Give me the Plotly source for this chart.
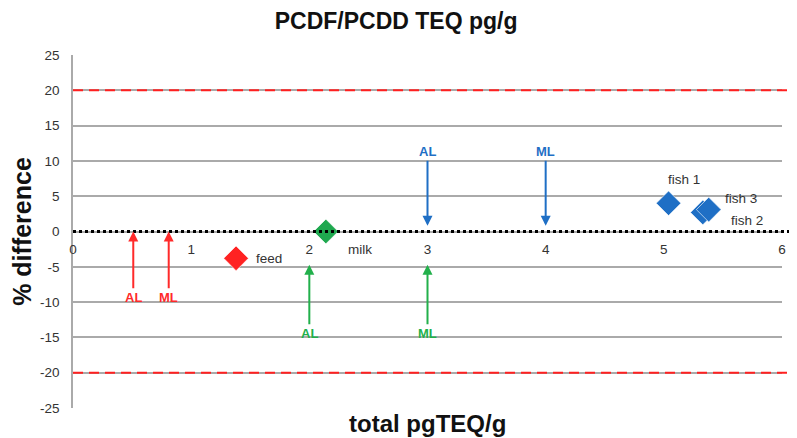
import plotly.graph_objects as go

# ---- data ----
sample_names = ["feed", "milk", "fish 1", "fish 2", "fish 3"]
sample_x = [1.38, 2.14, 5.04, 5.33, 5.38]
sample_y = [-3.8, 0.0, 4.0, 2.7, 3.1]
sample_colors = ["#ff2222", "#1fa84f", "#1f6fc5", "#1f6fc5", "#1f6fc5"]
label_x = [1.53, 2.31, 5.17, 5.55, 5.50]
label_y = [-3.8, -2.6, 7.3, 1.6, 4.7]
label_anchor = ["left", "left", "center", "left", "left"]

arrow_text = ["AL", "ML", "AL", "ML", "AL", "ML"]
arrow_x = [0.51, 0.81, 2.0, 3.0, 3.0, 4.0]
arrow_tail_y = [-9.3, -9.3, -14.4, -14.4, 11.3, 11.3]
arrow_head_y = [0.0, 0.0, -4.7, -4.7, 0.8, 0.8]
arrow_colors = ["#ff2a2a", "#ff2a2a", "#22b04b", "#22b04b", "#1f6fc5", "#1f6fc5"]

x_ticks = [0, 1, 2, 3, 4, 5, 6]
y_ticks = [-25, -20, -15, -10, -5, 0, 5, 10, 15, 20, 25]
y_tick_labels = ["-25", "-20", "-15", "-10", "-5", "0", "5", "10", "15", "20", "25"]
limit_lines = [20, -20]

fig = go.Figure()

fig.add_trace(go.Scatter(
    x=sample_x, y=sample_y, mode="markers",
    marker=dict(symbol="diamond", size=19, color=sample_colors,
                line=dict(color="rgba(255,255,255,0.6)", width=1)),
    showlegend=False, hoverinfo="skip", cliponaxis=False,
))

annotations = []
for t, x, y, a in zip(sample_names, label_x, label_y, label_anchor):
    annotations.append(dict(x=x, y=y, xref="x", yref="y", text=t, showarrow=False,
                            xanchor=a, yanchor="middle",
                            font=dict(family="Arial", size=13.5, color="#333333")))

for t, x, ty, hy, c in zip(arrow_text, arrow_x, arrow_tail_y, arrow_head_y, arrow_colors):
    annotations.append(dict(x=x, y=hy, ax=x, ay=ty, xref="x", yref="y", axref="x", ayref="y",
                            text="<b>%s</b>" % t, showarrow=True, arrowhead=2, arrowsize=1,
                            arrowwidth=2, arrowcolor=c, standoff=0, startstandoff=0,
                            font=dict(family="Arial", size=13, color=c)))

annotations.append(dict(x=0.5, y=-0.043, xref="paper", yref="paper", text="<b>total pgTEQ/g</b>",
                        showarrow=False, xanchor="center", yanchor="middle",
                        font=dict(family="Arial", size=24, color="#111111")))

shapes = []
for v in limit_lines:
    shapes.append(dict(type="line", xref="paper", yref="y", x0=0, x1=1.021, y0=v, y1=v,
                       line=dict(color="#ff2020", width=2, dash="10px,6px"), layer="above"))
shapes.append(dict(type="line", xref="paper", yref="y", x0=0, x1=1.021, y0=0, y1=0,
                   line=dict(color="#000000", width=3, dash="dot"), layer="above"))

fig.update_layout(
    width=797, height=438,
    margin=dict(l=65, r=23, t=47, b=38),
    paper_bgcolor="white", plot_bgcolor="white",
    title=dict(text="<b>PCDF/PCDD TEQ pg/g</b>", x=0.487, xanchor="center", y=0.97, yanchor="middle",
               font=dict(family="Arial", size=23, color="#111111")),
    xaxis=dict(range=[0, 6], tickvals=x_ticks, showgrid=False, zeroline=False, showline=False,
               anchor="free", position=0.5, ticks="outside", ticklen=5, automargin=False,
               tickcolor="rgba(0,0,0,0)",
               tickfont=dict(family="Arial", size=13.5, color="#333333")),
    yaxis=dict(range=[-25, 25], tickvals=y_ticks, ticktext=y_tick_labels,
               showgrid=True, gridcolor="#aaaaaa", gridwidth=1.5,
               zeroline=False, showline=True, linecolor="#aaaaaa", linewidth=1.5, automargin=False,
               ticks="outside", ticklen=9, tickcolor="rgba(0,0,0,0)",
               tickfont=dict(family="Arial", size=13.5, color="#333333"),
               title=dict(text="<b>% difference</b>", standoff=6,
                          font=dict(family="Arial", size=25, color="#111111"))),
    annotations=annotations, shapes=shapes,
)

fig.write_html("out.html")
